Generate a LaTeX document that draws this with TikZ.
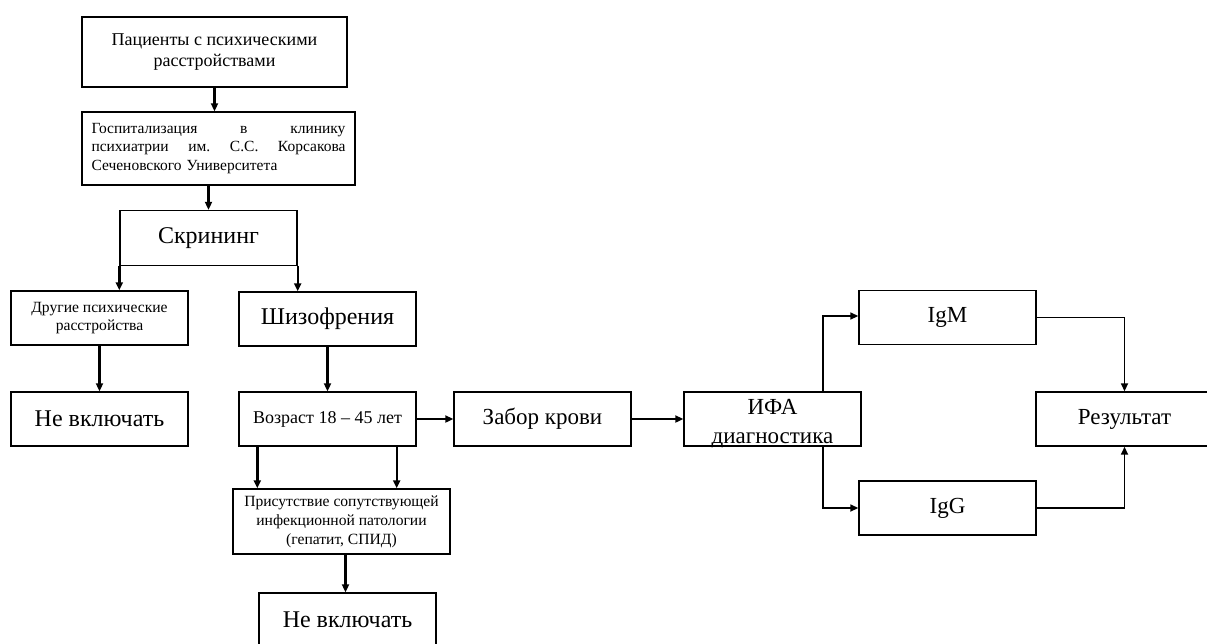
\documentclass[tikz,border=0pt]{standalone}
\usepackage{fontspec}
\setmainfont{Liberation Serif}
\usetikzlibrary{arrows.meta,positioning,calc}
\tikzset{>={Triangle[length=8pt,width=7pt]},
 block/.style={draw,line width=1.4pt,minimum width=177pt,minimum height=54pt,align=center,inner sep=2pt},
 big/.style={font=\fontsize{24}{29}\selectfont},mid/.style={font=\fontsize{23}{28}\selectfont},
 small/.style={font=\fontsize{15.6}{19}\selectfont},
 link/.style={->,line width=2.4pt},elbow/.style={->,line width=1.6pt}}
\begin{document}
\begin{tikzpicture}[x=1pt,y=-1pt]
\useasboundingbox (0,0) rectangle (1207,643);
\clip (0,0) rectangle (1207,643);
\node[block,font=\fontsize{18}{20.7}\selectfont,minimum width=265pt,minimum height=70pt] (pac) at (214.5,52) {Пациенты с психическими\\расстройствами};
\node[block,font=\fontsize{15.5}{18.8}\selectfont,minimum width=273pt,minimum height=73pt,text width=254pt,align=left] (gosp) at (218.5,148.5)
 {\leavevmode\hbox to 254pt{Госпитализация\hfill в\hfill клинику}\\\leavevmode\hbox to 254pt{психиатрии\hfill им.\hfill С.С.\hfill Корсакова}\\Сеченовского Университета};
\node[block,small,font=\fontsize{15.6}{17.7}\selectfont] (dr) at (99.5,318) {Другие психические\\расстройства};
\node[block,big,minimum height=55pt] (scr) at (208.5,238) {Скрининг};
\node[block,big] (shiz) at (327.5,319) {Шизофрения};
\node[block,big] (ne1) at (99.5,419) {Не включать};
\node[block,font=\fontsize{18}{20}\selectfont] (voz) at (327.5,419) {Возраст 18 -- 45 лет};
\node[block,small,minimum width=217pt,minimum height=65pt] (pris) at (341.5,521.5) {Присутствие сопутствующей\\инфекционной патологии\\(гепатит, СПИД)};
\node[block,big] (ne2) at (347.5,620) {Не включать};
\node[block,mid] (zab) at (542.5,419) {Забор крови};
\node[block] (ifa) at (772.5,419) {};
\node[font=\fontsize{23}{29}\selectfont,align=center,inner sep=0pt] (ifatxt) at ([yshift=-5pt]ifa.center) {ИФА\\диагностика};
\node[block,mid] (igm) at (947.5,317.5) {IgM};
\node[block,mid] (igg) at (947.5,508) {IgG};
\node[block,mid] (rez) at (1124.5,419) {Результат};
\draw[link] (pac.south) -- (pac.south |- gosp.north);
\draw[link] (scr.north |- gosp.south) -- (scr.north);
\draw[link] (scr.south west) -- (scr.south west |- dr.north);
\draw[link] (scr.south east) -- (scr.south east |- shiz.north);
\draw[link] (dr) -- (ne1);
\draw[link] (shiz) -- (voz);
\coordinate (v1) at ([xshift=19pt]voz.south west);
\coordinate (v2) at ([xshift=-20pt]voz.south east);
\coordinate (p1) at ([xshift=4pt]pris.south);
\draw[link] (v1) -- (v1 |- pris.north);
\draw[link] (v2) -- (v2 |- pris.north);
\draw[link] (p1) -- (p1 |- ne2.north);
\draw[link] (voz) -- (zab);
\draw[link] (zab) -- (ifa);
\coordinate (f1) at ([xshift=-39pt]ifa.north east);
\coordinate (f2) at ([xshift=-39pt]ifa.south east);
\draw[elbow] (f1) |- ([yshift=1.5pt]igm.west);
\draw[elbow] (f2) |- (igg.west);
\draw[elbow] (igm.east) -| (rez.north);
\draw[elbow] (igg.east) -| (rez.south);
\end{tikzpicture}
\end{document}
